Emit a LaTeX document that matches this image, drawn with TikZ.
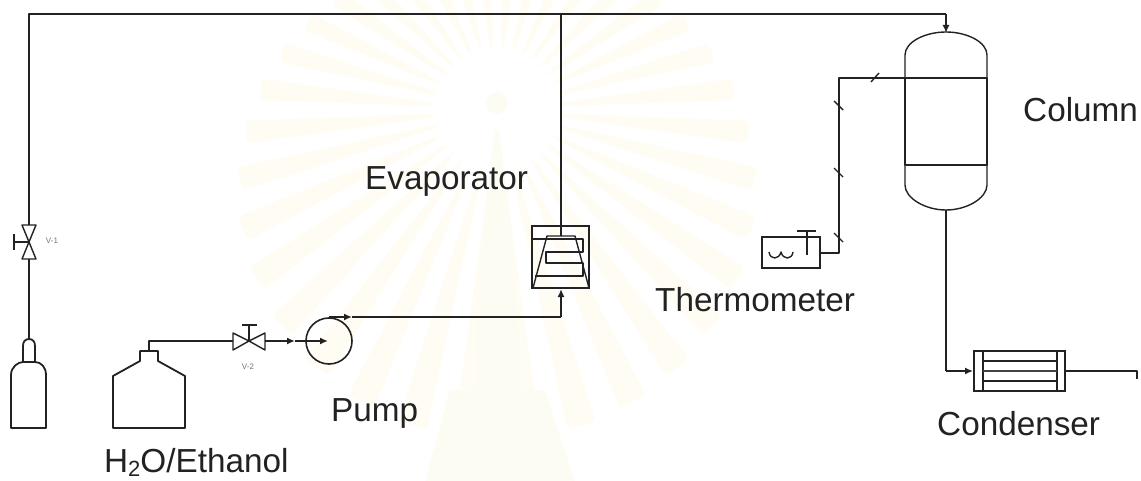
\documentclass[tikz,border=0pt]{standalone}
\usepackage{fontspec}
\setmainfont{Liberation Sans}
\usetikzlibrary{arrows.meta}
\definecolor{ink}{HTML}{222222}
\definecolor{wm}{HTML}{FEFCF3}
\definecolor{wmb}{HTML}{FDFCF3}
\tikzset{
  pipe/.style={draw=ink,line width=1.8pt,line join=round},
  thinp/.style={draw=ink,line width=1.4pt,line join=round},
  tip/.style={-{Latex[length=8pt,width=7pt]}},
  tag/.style={font=\fontsize{33.3}{36}\selectfont,text=ink,inner sep=0pt,anchor=base west},
  small/.style={font=\fontsize{8}{9}\selectfont,text=black!55,inner sep=0pt},
  unit/.style={draw=ink,line width=1.8pt,inner sep=0pt,rectangle},
  tick/.style={draw=ink,line width=1.4pt}
}
\begin{document}
\begin{tikzpicture}[x=1pt,y=-1pt]
\useasboundingbox (0,0) rectangle (1141,481);
% faint watermark
\begin{scope}
\clip (0,0) rectangle (1141,481);
\begin{scope}[shift={(497,110)}]
\foreach \a in {5,15,...,355}{
  \pgfmathsetmacro{\rr}{245+85*sin(\a)}
  \fill[wm,rounded corners=5pt] (\a-1.5:62) -- (\a-2.6:\rr) -- (\a+2.6:\rr) -- (\a+1.5:62) -- cycle;
}
\end{scope}
\fill[white] (497,110) circle (54);
\fill[wmb] (476,481) -- (476,340) -- (486,200) -- (495,130) -- (499,130) -- (508,200) -- (518,340) -- (518,481) -- cycle;
\fill[wmb] (497,103) circle (11);
\fill[wmb] (425,481) -- (450,390) -- (545,390) -- (575,481) -- cycle;
\end{scope}

% named points
\coordinate (topL) at (29,14);
\coordinate (topM) at (561,14);
\coordinate (topR) at (946,14);
\coordinate (v1top) at (29,225);
\coordinate (v1c) at (29,242);
\coordinate (v1bot) at (29,259);
\coordinate (cylTop) at (29,339);
\coordinate (v2in) at (233,341);
\coordinate (v2c) at (249,341);
\coordinate (v2out) at (265,341);
\coordinate (bottleOut) at (149,351);
\coordinate (bottleBend) at (149,341);
\coordinate (midTip) at (295,341);
\coordinate (pumpIn) at (328,341);
\coordinate (pumpOut) at (329,317);
\coordinate (pumpTip) at (352,317);
\coordinate (evapBend) at (561,317);
\coordinate (evapTop) at (561,236);
\coordinate (colTop) at (946,33);
\coordinate (colBot) at (946,210);
\coordinate (colL) at (905,78);
\coordinate (bendA) at (839,78);
\coordinate (bendB) at (839,253);
\coordinate (bendC) at (946,371);
\coordinate (outEnd) at (1137,371);
\coordinate (outDrop) at (1137,379);

% main pipes
\draw[pipe] (v1top) -- (topL) -- (topR);
\draw[pipe,tip] (topR) -- (colTop);
\draw[thinp] (topM) -- (evapTop);

% V-1
\draw[thinp] (v1top) -- ++(-7,0) -- (v1c) -- ++(7,-17) -- ++(-7,0)
   (v1bot) -- ++(-7,0) -- (v1c) -- ++(7,17) -- ++(-7,0);
\draw[pipe] (v1c) -- ++(-15,0) ++(0,-8) -- ++(0,16);
\node[small] (v1lab) at (52,241) {V-1};

% gas cylinder
\draw[pipe] (v1bot) -- (cylTop);
\draw[pipe] (23,362) -- (23,346) .. controls (23,342) and (25,339) .. (29,339) .. controls (33,339) and (35,342) .. (35,346) -- (35,362);
\draw[pipe] (11,375) .. controls (11,367) and (18,362) .. (23,362) -- (35,362) .. controls (41,362) and (46,367) .. (46,375) -- (46,428) -- (11,428) -- cycle;

% bottle
\draw[pipe] (113,428) -- (113,376) -- (140,361) -- (140,351) -- (158,351) -- (158,361) -- (185,376) -- (185,428) -- cycle;
\draw[pipe] (bottleOut) -- (bottleBend) -- (v2in);

% V-2
\draw[thinp] (v2in) -- (233,333) -- (v2c) -- (233,350) -- cycle;
\draw[thinp] (v2out) -- (265,333) -- (v2c) -- (265,350) -- cycle;
\draw[pipe] (v2c) -- (249,325) (242,325) -- (257,325);
\node[small] (v2lab) at (248,367) {V-2};

% pump
\node[draw=ink,line width=1.6pt,circle,minimum size=46pt,inner sep=0pt] (pump) at (329,341) {};
\draw[pipe,tip] (v2out) -- (midTip);
\draw[pipe,tip] (midTip) -- (pumpIn);
\draw[pipe,tip] (pumpOut) -- (pumpTip);
\draw[pipe] (pumpTip) -- (evapBend);
\draw[pipe,tip] (evapBend) -- (561,289);

% evaporator
\node[unit,line width=1.5pt,minimum width=57pt,minimum height=62pt] (evap) at (560.5,257) {};
\draw[thinp] (533,288) -- (547,236) -- (575,236) -- (589,288);
\draw[thinp] (532,239) -- (583,239) -- (583,252) -- (546,252) -- (546,263) -- (583,263) -- (583,276) -- (535,276);

% thermometer
\node[unit,minimum width=58pt,minimum height=31pt] (thermo) at (791,252.5) {};
\draw[draw=ink,line width=2.4pt] (807,231) -- (807,255) (797,231) -- (816,231);
\draw[thinp] (769,252) .. controls (770,260) and (779,260) .. (781,252) .. controls (783,260) and (792,260) .. (793,252);
\draw[thinp] (820,253) -- (bendB) -- (bendA) -- (colL);
\draw[tick] (834,101) -- (843,110);
\draw[tick] (834,168) -- (843,177);
\draw[tick] (834,233) -- (843,242);
\draw[tick] (871,82) -- (879,73);

% column
\draw[thinp] (905,78) -- (905,55) .. controls (905,42) and (925,32) .. (946,32) .. controls (967,32) and (987,42) .. (987,55) -- (987,78);
\draw[thinp] (905,165) -- (905,185) .. controls (905,198) and (925,210) .. (946,210) .. controls (967,210) and (987,198) .. (987,185) -- (987,165);
\draw[pipe] (905,78) rectangle (987,165);

% condenser
\node[unit,minimum width=91pt,minimum height=40pt] (cond) at (1019.5,371) {};
\draw[thinp] (983,351) -- (983,391) (1057,351) -- (1057,391);
\draw[thinp] (983,361) -- (1057,361) (983,381) -- (1057,381);
\draw[draw=ink!85,line width=2.2pt] (983,371) -- (1057,371);
\draw[thinp] (colBot) -- (bendC);
\draw[pipe,tip] (bendC) -- (cond.west);
\draw[pipe] (cond.east) -- (outEnd) -- (outDrop);

% labels
\node[tag] (lEvap) at (365,190) {Evaporator};
\node[tag] (lCol) at (1023,122) {Column};
\node[tag] (lTher) at (655,312) {Thermometer};
\node[tag] (lPump) at (331,421) {Pump};
\node[tag] (lCond) at (937,435) {Condenser};
\node[tag] (lH) at (104,472) {H\raisebox{-4pt}{\fontsize{22}{24}\selectfont 2}O/Ethanol};
\end{tikzpicture}
\end{document}
